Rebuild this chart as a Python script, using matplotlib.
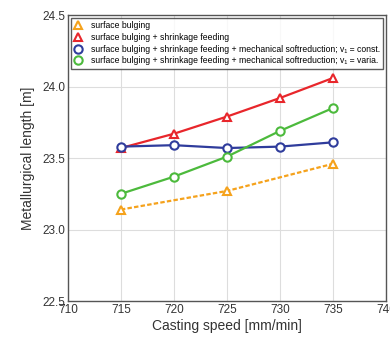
import matplotlib.pyplot as plt

plt.rcParams["font.family"] = ["Liberation Sans", "DejaVu Sans"]

speed = [715, 720, 725, 730, 735]
speed_bulging = [715, 725, 735]

bulging = [23.14, 23.27, 23.46]
shrinkage = [23.57, 23.67, 23.79, 23.92, 24.06]
soft_const = [23.58, 23.59, 23.57, 23.58, 23.61]
soft_varia = [23.25, 23.37, 23.51, 23.69, 23.85]

labels = [
    "surface bulging",
    "surface bulging + shrinkage feeding",
    "surface bulging + shrinkage feeding + mechanical softreduction; v\u2081 = const.",
    "surface bulging + shrinkage feeding + mechanical softreduction; v\u2081 = varia.",
]

C_ORANGE = "#f5a21c"
C_RED = "#e8262b"
C_BLUE = "#2f3c9c"
C_GREEN = "#4cba3c"
C_TEXT = "#333333"

fig = plt.figure(figsize=(3.9, 3.41), dpi=100)
ax = fig.add_axes([0.174, 0.117, 0.816, 0.839])

mk = dict(markersize=6, markerfacecolor="white", markeredgewidth=1.5, linewidth=1.6)
ax.plot(speed_bulging, bulging, "^", linestyle=(0, (2, 1)), color=C_ORANGE, label=labels[0], **mk)
ax.plot(speed, shrinkage, "^-", color=C_RED, label=labels[1], **mk)
ax.plot(speed, soft_const, "o-", color=C_BLUE, label=labels[2], **mk)
ax.plot(speed, soft_varia, "o-", color=C_GREEN, label=labels[3], **mk)

ax.set_xlim(710, 740)
ax.set_ylim(22.5, 24.5)
ax.set_xticks(range(710, 741, 5))
ax.set_yticks([22.5, 23.0, 23.5, 24.0, 24.5])
ax.set_yticklabels(["22.5", "23.0", "23.5", "24.0", "24.5"])
ax.grid(True, color="#dddddd", linewidth=0.8)
ax.set_axisbelow(True)
ax.tick_params(length=0, labelsize=8.5, colors=C_TEXT, pad=2)
for s in ax.spines.values():
    s.set_color("#555555")
    s.set_linewidth(1.0)

ax.set_xlabel("Casting speed [mm/min]", fontsize=10, color=C_TEXT, labelpad=2)
ax.set_ylabel("Metallurgical length [m]", fontsize=10, color=C_TEXT, labelpad=5)

leg = ax.legend(
    loc="upper left",
    fontsize=6.2,
    frameon=True,
    fancybox=False,
    edgecolor="#333333",
    borderaxespad=0.35,
    handlelength=0.8,
    handletextpad=1.1,
    labelspacing=0.3,
    borderpad=0.4,
)
leg.get_frame().set_linewidth(1.0)
for h in leg.get_lines():
    h.set_linestyle("none")

fig.savefig("out.png", dpi=100)
